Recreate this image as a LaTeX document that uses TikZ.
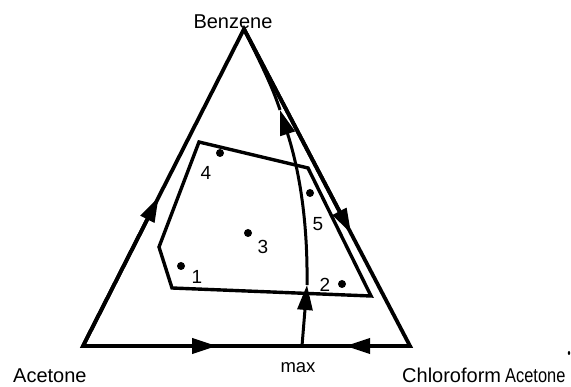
\documentclass[tikz,border=0pt]{standalone}
\usepackage{fontspec}
\setmainfont{Liberation Sans}
\usetikzlibrary{arrows.meta,calc}
\tikzset{
  edge/.style={line width=3.8pt, line join=miter, line cap=butt},
  curveline/.style={line width=3pt},
  arr/.style={-{Triangle[length=25pt,width=15pt]}},
  region/.style={line width=3.4pt, line join=miter},
  dotmark/.style={circle, fill=black, inner sep=0pt, minimum size=8pt},
  biglabel/.style={inner sep=0pt, font=\fontsize{20}{24}\selectfont},
  numlabel/.style={inner sep=0pt, font=\fontsize{19}{22}\selectfont},
}
\begin{document}
\begin{tikzpicture}[x=1pt,y=-1pt]
\useasboundingbox (0,0) rectangle (571,387);
% corners
\coordinate (A) at (83,346);
\coordinate (B) at (244,29);
\coordinate (C) at (410,346);
\coordinate (M) at (302,346);
\coordinate (K) at (307,285);
\coordinate (T) at (280,110);
% triangle
\draw[edge] (A) -- (B) -- (C) -- cycle;
\draw[edge,arr] (A) -- ($(A)!0.47!(B)$);
\draw[edge,arr] (B) -- ($(B)!0.645!(C)$);
\draw[edge,arr] (A) -- ($(A)!0.41!(C)$);
\draw[edge,arr] (C) -- ($(C)!0.60!(M)$);
% curve from max to benzene
\draw[curveline,arr] (M) -- (K);
\draw[curveline,arr] (K) .. controls (308,210) and (296,160) .. (T);
\draw[curveline] (T) .. controls (272,85) and (258,58) .. (B);
% region polygon
\coordinate (P1) at (199,142);
\coordinate (P2) at (308,168);
\coordinate (P3) at (371,296);
\coordinate (P4) at (172,288);
\coordinate (P5) at (159,247);
\draw[region] (P1) -- (P2) -- (P3) -- (P4) -- (P5) -- cycle;
% points
\node[dotmark] (d1) at (181,266) {};
\node[dotmark] (d2) at (342,284) {};
\node[dotmark] (d3) at (248,233) {};
\node[dotmark] (d4) at (220,153) {};
\node[dotmark] (d5) at (310,193) {};
\node[numlabel] (n1) at (197,277) {1};
\node[numlabel] (n2) at (325,285) {2};
\node[numlabel] (n3) at (263,247) {3};
\node[numlabel] (n4) at (206,173) {4};
\node[numlabel] (n5) at (318,224) {5};
% labels
\node[biglabel, anchor=base] (lb) at (233,29) {Benzene};
\node[biglabel, anchor=base west] (la) at (13,383) {Acetone};
\node[biglabel, anchor=base, font=\fontsize{18.5}{22}\selectfont] (lm) at (298,373) {max};
\node[biglabel, anchor=base west] (lc) at (402,383) {Chloroform};
\node[biglabel, anchor=base west] (la2) at (505,383) {\scalebox{0.82}[1]{Acetone}};
\fill (569,353) ellipse (1.2pt and 2pt);
\end{tikzpicture}
\end{document}
